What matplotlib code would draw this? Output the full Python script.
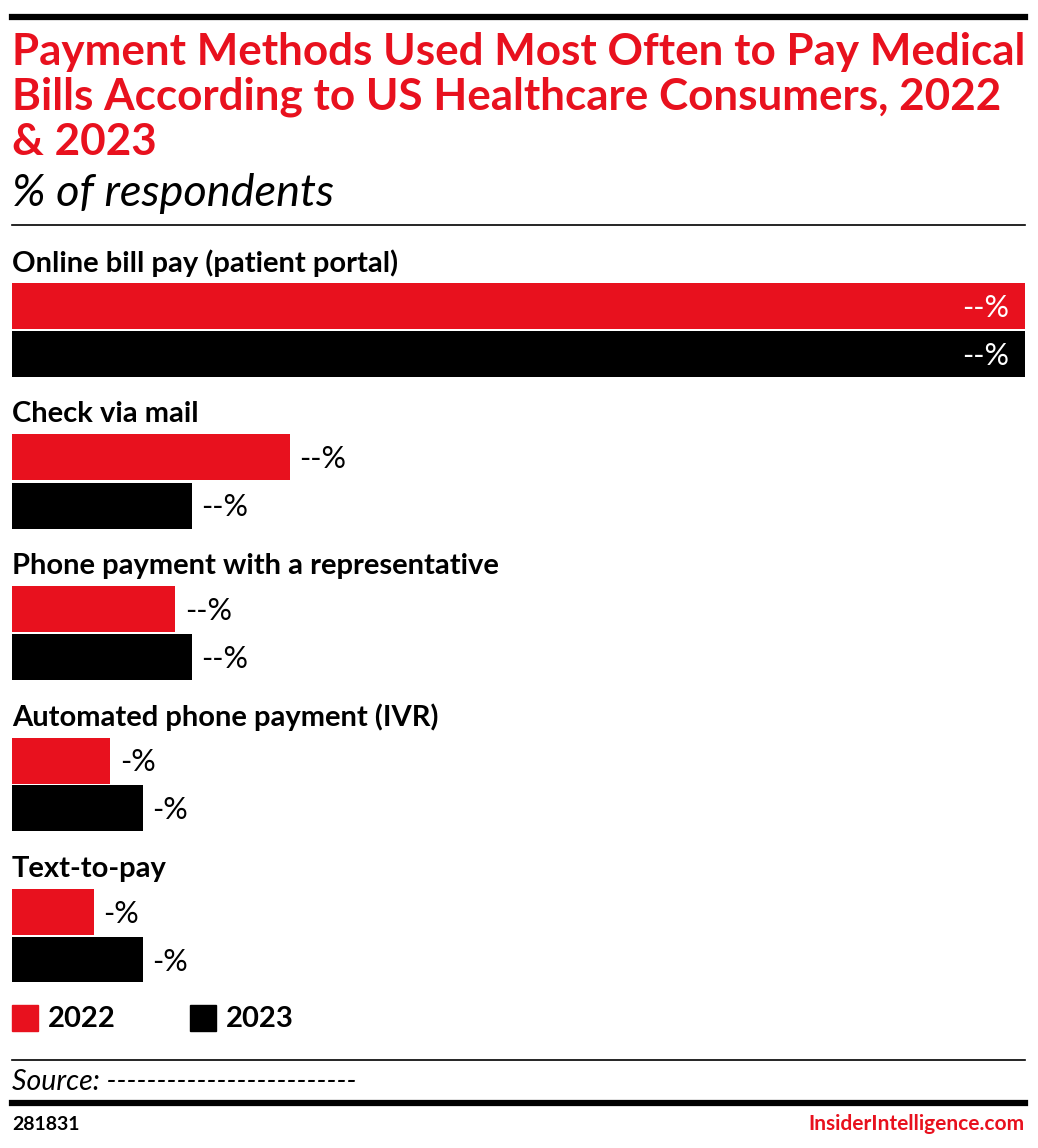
import matplotlib.pyplot as plt

RED = '#e8111e'

categories = ['Online bill pay (patient portal)', 'Check via mail',
              'Phone payment with a representative',
              'Automated phone payment (IVR)', 'Text-to-pay']
vals_2022 = [62, 17, 10, 6, 5]
vals_2023 = [62, 11, 11, 8, 8]
labels_2022 = ['--%', '--%', '--%', '-%', '-%']
labels_2023 = ['--%', '--%', '--%', '-%', '-%']
years = ['2022', '2023']

plt.rcParams['font.family'] = ['Lato', 'DejaVu Sans']

W, H = 1038, 1148
fig = plt.figure(figsize=(W / 100, H / 100), dpi=100)


def fx(px):
    return px / W


def fy(py):
    return 1 - py / H


# top rule, title, subtitle
fig.add_artist(plt.Line2D([fx(12), fx(1025)], [fy(16.5), fy(16.5)], color='black', lw=4.5))
title = ('Payment Methods Used Most Often to Pay Medical\n'
         'Bills According to US Healthcare Consumers, 2022\n& 2023')
fig.text(fx(12), fy(97), title, color=RED, fontsize=31.7, fontweight='bold',
         va='center', ha='left', linespacing=1.14)
fig.text(fx(12), fy(193), '% of respondents', fontsize=32.5, style='italic',
         va='center', ha='left')
fig.add_artist(plt.Line2D([fx(12), fx(1025)], [fy(225), fy(225)], color='black', lw=1.2))

# bars
top, bottom = 283, 982
pitch = 151.5
ax = fig.add_axes([fx(12), fy(bottom), fx(1025) - fx(12), (bottom - top) / H])
span = (bottom - top) / pitch
ax.set_ylim(span, 0)
ax.set_xlim(0, 62)
h = 46 / pitch
gap = 48 / pitch
for i, cat in enumerate(categories):
    y1 = i + h / 2
    y2 = i + gap + h / 2
    ax.barh(y1, vals_2022[i], height=h, color=RED, left=0)
    ax.barh(y2, vals_2023[i], height=h, color='black', left=0)
    ax.text(0, i - 20 / pitch, cat, fontsize=21, fontweight='bold',
            va='center', ha='left')
    for y, v, lab in [(y1, vals_2022[i], labels_2022[i]), (y2, vals_2023[i], labels_2023[i])]:
        if v > 50:
            ax.text(v - 1.0, y + 0.01, lab, color='white', fontsize=22,
                    va='center', ha='right')
        else:
            ax.text(v + 0.6, y + 0.01, lab, color='black', fontsize=22,
                    va='center', ha='left')
ax.axis('off')

# legend
for x0, col, yr in [(12, RED, years[0]), (190, 'black', years[1])]:
    fig.patches.append(plt.Rectangle((fx(x0), fy(1031)), 26 / W, 26 / H,
                                     color=col, transform=fig.transFigure))
    fig.text(fx(x0 + 36), fy(1019), yr, fontsize=21, fontweight='bold',
             va='center', ha='left')

# footer
fig.add_artist(plt.Line2D([fx(12), fx(1025)], [fy(1060), fy(1060)], color='black', lw=1.2))
fig.text(fx(12), fy(1082), 'Source: ' + '-' * 25, fontsize=20.5, style='italic',
         va='center', ha='left')
fig.add_artist(plt.Line2D([fx(12), fx(1025)], [fy(1103), fy(1103)], color='black', lw=4.5))
fig.text(fx(12), fy(1124), '281831', fontsize=14, fontweight='bold',
         va='center', ha='left')
fig.text(fx(1025), fy(1124), 'InsiderIntelligence.com', fontsize=15, color=RED,
         fontweight='bold', va='center', ha='right')

fig.savefig('out.png', dpi=100)
